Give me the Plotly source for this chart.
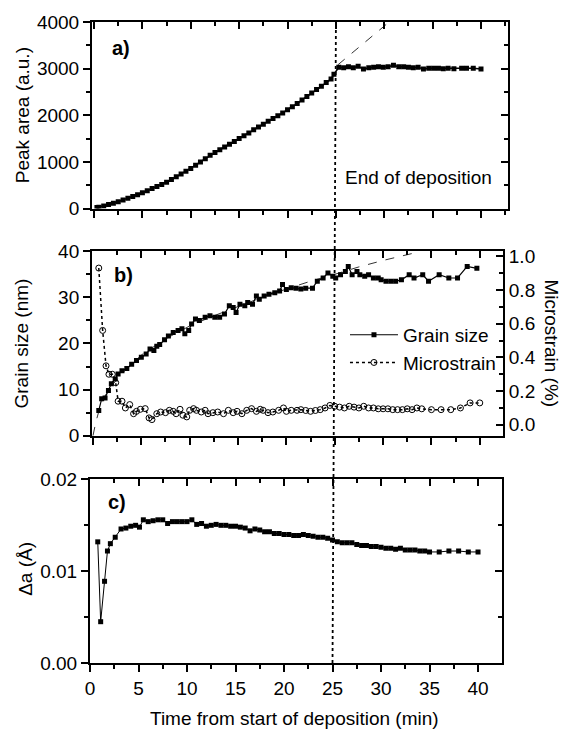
import plotly.graph_objects as go

FONT = "Liberation Sans, Arial, sans-serif"

# ---------------- data ----------------
# a) peak area (a.u.)
area_t = [0.3, 0.5, 1.0, 1.5, 2.0, 2.5, 3.0, 3.5, 4.0, 4.5, 5.0, 5.5, 6.0, 6.5, 7.0, 7.5,
          8.0, 8.5, 9.0, 9.5, 10.0, 10.5, 11.0, 11.5, 12.0, 12.5, 13.0, 13.5, 14.0, 14.5,
          15.0, 15.5, 16.0, 16.5, 17.0, 17.5, 18.0, 18.5, 19.0, 19.5, 20.0, 20.5, 21.0,
          21.5, 22.0, 22.5, 23.0, 23.5, 24.0, 24.5, 24.8,
          25.3, 25.8, 26.3, 26.8, 27.3, 27.85, 28.4, 28.9, 29.4, 29.9, 30.4, 30.95, 31.5,
          32.0, 32.5, 33.0, 33.5, 34.05, 34.6, 35.1, 35.6, 36.1, 36.6, 37.2, 38.0, 38.5,
          39.2, 40.0]
area_v = [20, 30, 55, 85, 115, 145, 185, 220, 258, 298, 338, 382, 428, 470, 515, 565,
          620, 680, 740, 800, 860, 930, 1000, 1070, 1140, 1200, 1260, 1320, 1380, 1440,
          1500, 1560, 1620, 1690, 1750, 1810, 1870, 1930, 1990, 2050, 2120, 2180, 2250,
          2330, 2400, 2480, 2550, 2620, 2700, 2780, 2880,
          3030, 3020, 3040, 3020, 3050, 2990, 3020, 3030, 3040, 3030, 3040, 3070, 3040,
          3040, 3030, 3020, 3030, 2990, 3010, 3010, 3010, 3000, 3010, 3000, 3010, 3010,
          3010, 2990]
area_ext_t = [25.2, 30.5]
area_ext_v = [3080, 4000]

# b) grain size (nm)
grain_t = [0.6, 0.9, 1.25, 1.6, 1.9, 2.3, 2.6, 3.0, 3.5, 4.0, 4.5, 5.0, 5.5, 5.9, 6.3,
           6.6, 6.9, 7.4, 7.8, 8.3, 8.8, 9.2, 9.5, 9.9, 10.2, 10.6, 11.0, 11.6, 12.1,
           12.6, 13.1, 13.6, 14.1, 14.5, 14.8, 15.2, 15.7, 16.0, 16.5, 16.9, 17.2, 17.7,
           18.2, 18.8, 19.3, 19.6, 20.0, 20.5, 21.0, 21.5, 22.0, 22.7, 23.2, 23.8, 24.3,
           24.8, 25.1, 25.6, 26.1, 26.4, 26.8, 27.3, 27.6, 28.1, 28.5, 29.0, 29.5, 29.8,
           30.3, 30.8, 31.3, 31.9, 32.7, 33.2, 34.1, 34.7, 35.8, 36.8, 37.7, 38.7, 39.7]
grain_v = [5.5, 8.0, 8.2, 9.8, 11.3, 12.3, 13.4, 14.1, 14.6, 15.5, 16.3, 17.0, 17.7, 18.8,
           18.5, 19.4, 19.8, 20.8, 21.6, 22.4, 22.8, 23.2, 22.1, 22.8, 24.2, 25.3, 25.0,
           25.7, 26.0, 25.7, 25.7, 26.4, 28.2, 27.8, 26.7, 28.5, 28.2, 28.9, 28.5, 30.3,
           29.6, 30.3, 30.7, 31.0, 31.4, 32.8, 31.7, 32.1, 32.0, 31.8, 32.0, 32.0, 33.5,
           34.2, 35.3, 34.6, 34.2, 34.9, 35.6, 36.7, 34.9, 35.6, 34.9, 34.6, 34.9, 34.2,
           34.2, 33.8, 33.5, 33.5, 33.5, 33.8, 34.9, 34.2, 34.9, 33.5, 34.9, 34.2, 34.2,
           36.7, 36.3]
fit_t = [0.0, 0.3, 0.7, 1.2, 2.0, 3.0, 5.0, 7.5, 10.0, 12.5, 15.0, 17.5, 20.0, 22.5,
         25.0, 27.5, 30.0, 33.6]
fit_v = [0.0, 3.0, 6.0, 8.5, 11.0, 13.5, 17.5, 21.0, 23.8, 26.0, 28.0, 30.0, 31.8, 33.5,
         35.0, 36.6, 38.0, 39.8]

# b) microstrain (%)
strain_t = [0.6, 1.0, 1.35, 1.65, 2.0, 2.35, 2.6, 3.0, 3.35, 3.8, 4.2, 4.5, 4.9, 5.4, 5.8,
            6.1, 6.6, 7.0, 7.5, 7.9, 8.3, 8.6, 9.0, 9.3, 9.7, 10.0, 10.4, 10.7, 11.2, 11.6,
            11.9, 12.4, 12.9, 13.5, 14.0, 14.5, 14.9, 15.4, 15.9, 16.4, 16.9, 17.3, 17.6,
            18.1, 18.6, 19.2, 19.7, 20.0, 20.5, 21.1, 21.5, 22.0, 22.5, 23.0, 23.5, 24.0,
            24.5, 25.0, 25.5, 26.0, 26.5, 27.0, 27.5, 28.0, 28.5, 29.0, 29.5, 30.0, 30.5,
            31.0, 31.5, 32.0, 32.5, 33.0, 33.5, 34.0, 35.0, 36.0, 37.0, 38.0, 39.0, 40.0]
strain_v = [0.93, 0.56, 0.35, 0.30, 0.30, 0.25, 0.14, 0.14, 0.10, 0.12, 0.066, 0.08, 0.092,
            0.096, 0.041, 0.031, 0.066, 0.076, 0.072, 0.086, 0.08, 0.066, 0.092, 0.057,
            0.047, 0.086, 0.096, 0.086, 0.076, 0.086, 0.066, 0.072, 0.076, 0.066, 0.086,
            0.072, 0.08, 0.066, 0.086, 0.096, 0.08, 0.092, 0.086, 0.072, 0.076, 0.086, 0.10,
            0.08, 0.086, 0.086, 0.09, 0.085, 0.08, 0.085, 0.09, 0.10, 0.115, 0.11, 0.105,
            0.10, 0.11, 0.105, 0.10, 0.11, 0.10, 0.10, 0.095, 0.095, 0.095, 0.09, 0.09,
            0.09, 0.095, 0.09, 0.10, 0.095, 0.09, 0.09, 0.09, 0.10, 0.13, 0.13]

# c) lattice parameter change (Å)
da_t = [0.8, 1.1, 1.5, 1.8, 2.1, 2.6, 3.2, 3.7, 4.2, 4.7, 5.1, 5.5, 6.0, 6.5, 7.0, 7.5,
        8.0, 8.5, 9.0, 9.5, 10.0, 10.5, 11.0, 11.5, 12.0, 12.5, 13.0, 13.5, 14.0, 14.5,
        15.0, 15.5, 16.0, 16.5, 17.0, 17.5, 18.0, 18.5, 19.0, 19.5, 20.0, 20.5, 21.0,
        21.5, 22.0, 22.5, 23.0, 23.5, 24.0, 24.5, 25.0, 25.5, 26.0, 26.5, 27.0, 27.5,
        28.0, 28.5, 29.0, 29.5, 30.0, 30.5, 31.0, 31.5, 32.0, 32.5, 33.0, 33.5, 34.0,
        34.5, 35.0, 36.0, 37.0, 38.0, 39.0, 40.0]
da_v = [0.0132, 0.0045, 0.0089, 0.0122, 0.0130, 0.0137, 0.0146, 0.0147, 0.0149, 0.0150,
        0.0148, 0.0156, 0.0154, 0.0155, 0.0156, 0.0156, 0.0152, 0.0154, 0.0154, 0.0154,
        0.0154, 0.0156, 0.0151, 0.0152, 0.0149, 0.0150, 0.0151, 0.0150, 0.0150, 0.0149,
        0.0149, 0.0148, 0.0147, 0.0144, 0.0146, 0.0145, 0.0143, 0.0143, 0.0141, 0.0141,
        0.0140, 0.0140, 0.0139, 0.0139, 0.0140, 0.0139, 0.0138, 0.0137, 0.0137, 0.0136,
        0.0134, 0.0132, 0.0131, 0.0131, 0.0131, 0.0129, 0.0128, 0.0128, 0.0127, 0.0127,
        0.0126, 0.0125, 0.0125, 0.0124, 0.0125, 0.0123, 0.0123, 0.0123, 0.0122, 0.0122,
        0.0121, 0.0121, 0.0122, 0.0122, 0.0121, 0.0121]

END_T = 25.0
x_ticks = [0, 5, 10, 15, 20, 25, 30, 35, 40]

# ---------------- figure ----------------
fig = go.Figure()
sq = dict(symbol="square", size=5, color="black")

fig.add_trace(go.Scatter(x=area_t, y=area_v, mode="lines+markers", marker=sq,
                         line=dict(color="black", width=1.5), showlegend=False,
                         xaxis="x", yaxis="y"))
fig.add_trace(go.Scatter(x=area_ext_t, y=area_ext_v, mode="lines",
                         line=dict(color="#333", width=1, dash="dash"), showlegend=False,
                         xaxis="x", yaxis="y"))

fig.add_trace(go.Scatter(x=fit_t, y=fit_v, mode="lines",
                         line=dict(color="#333", width=1, dash="dash"), showlegend=False,
                         xaxis="x2", yaxis="y2"))
fig.add_trace(go.Scatter(x=grain_t, y=grain_v, mode="lines+markers", name="Grain size",
                         marker=sq, line=dict(color="black", width=1.2),
                         xaxis="x2", yaxis="y2"))
fig.add_trace(go.Scatter(x=strain_t, y=strain_v, mode="lines+markers", name="Microstrain",
                         marker=dict(symbol="circle-open", size=6, color="black",
                                     line=dict(width=1)),
                         line=dict(color="black", width=1.5, dash="dot"),
                         xaxis="x2", yaxis="y5"))

fig.add_trace(go.Scatter(x=da_t, y=da_v, mode="lines+markers", marker=sq,
                         line=dict(color="black", width=1), showlegend=False,
                         xaxis="x3", yaxis="y3"))

# invisible helpers so the mirrored (top / right) axes are drawn
for xa, ya in [("x4", "y4"), ("x5", "y2"), ("x6", "y6")]:
    fig.add_trace(go.Scatter(x=[None], y=[None], mode="markers", showlegend=False,
                             hoverinfo="skip", xaxis=xa, yaxis=ya))

tickfont = dict(family=FONT, size=19, color="black")
common = dict(showline=True, linecolor="black", linewidth=2, showgrid=False,
              zeroline=False, tickcolor="black", tickwidth=1.5, tickfont=tickfont)


def xmain(dom, rng, anchor, labels):
    return dict(common, domain=dom, range=rng, anchor=anchor, ticks="outside", ticklen=7,
                tickvals=x_ticks, showticklabels=labels,
                minor=dict(ticks="outside", ticklen=4, dtick=2.5, tick0=0,
                           tickcolor="black", tickwidth=1.5))


def xtop(over, rng, anchor):
    return dict(common, overlaying=over, range=rng, anchor=anchor, side="top",
                ticks="inside", ticklen=7, tickvals=x_ticks, showticklabels=False,
                minor=dict(ticks="inside", ticklen=4, dtick=2.5, tick0=0,
                           tickcolor="black", tickwidth=1.5))


def yleft(dom, rng, anchor, dtick, mdtick, fmt=None):
    d = dict(common, domain=dom, range=rng, anchor=anchor, ticks="outside", ticklen=7,
             dtick=dtick, tick0=0,
             minor=dict(ticks="outside", ticklen=4, dtick=mdtick, tick0=0,
                        tickcolor="black", tickwidth=1.5))
    if fmt:
        d["tickformat"] = fmt
    return d


def yright(over, rng, anchor, dtick, mdtick, labels, fmt=None):
    d = dict(common, overlaying=over, range=rng, anchor=anchor, side="right",
             ticks="inside", ticklen=7, dtick=dtick, tick0=0, showticklabels=labels,
             minor=dict(ticks="inside", ticklen=4, dtick=mdtick, tick0=0,
                        tickcolor="black", tickwidth=1.5))
    if fmt:
        d["tickformat"] = fmt
    return d


dom_a, rng_a = [0.0048, 1.0], [-0.21, 42.79]
dom_b, rng_b = [0.0048, 0.988], [-0.1, 42.4]
dom_c, rng_c = [0.0, 0.9856], [0.0, 42.47]
ydom_a, ydom_b, ydom_c = [0.709, 1.0], [0.3545, 0.6424], [0.0, 0.2864]

fig.update_layout(
    width=566, height=732,
    margin=dict(l=90, r=58, t=17, b=69),
    paper_bgcolor="white", plot_bgcolor="white",
    font=dict(family=FONT, size=19, color="black"),
    xaxis=xmain(dom_a, rng_a, "y", False),
    xaxis2=xmain(dom_b, rng_b, "y2", False),
    xaxis3=xmain(dom_c, rng_c, "y3", True),
    xaxis4=xtop("x", rng_a, "y"),
    xaxis5=xtop("x2", rng_b, "y2"),
    xaxis6=xtop("x3", rng_c, "y3"),
    yaxis=yleft(ydom_a, [0, 4000], "x", 1000, 500),
    yaxis2=yleft(ydom_b, [0, 40], "x2", 10, 5),
    yaxis3=yleft(ydom_c, [0, 0.02], "x3", 0.01, 0.005, ".2f"),
    yaxis4=yright("y", [0, 4000], "x", 1000, 500, False),
    yaxis5=yright("y2", [-0.065, 1.03], "x2", 0.2, 0.1, True, ".1f"),
    yaxis6=yright("y3", [0, 0.02], "x3", 0.01, 0.005, False),
    legend=dict(x=0.61, y=0.5415, xanchor="left", yanchor="top", bgcolor="rgba(0,0,0,0)",
                font=dict(family=FONT, size=19), itemwidth=48, tracegroupgap=0),
    showlegend=True,
)

# vertical dotted "end of deposition" line through all panels
fig.add_shape(type="line", xref="x3", yref="paper", x0=END_T, x1=END_T + 0.35,
              y0=0, y1=0.995, line=dict(color="black", width=1.8, dash="dot"))

ann = [
    dict(text="End of deposition", xref="x", yref="y", x=25.7, y=660, xanchor="left",
         yanchor="middle", font=dict(size=19)),
    dict(text="<b>a)</b>", xref="x", yref="y", x=1.65, y=3450, xanchor="left",
         yanchor="middle", font=dict(size=20)),
    dict(text="<b>b)</b>", xref="x2", yref="y2", x=2.0, y=34.8, xanchor="left",
         yanchor="middle", font=dict(size=20)),
    dict(text="<b>c)</b>", xref="x3", yref="y3", x=1.65, y=0.0175, xanchor="left",
         yanchor="middle", font=dict(size=20)),
    dict(text="Peak area (a.u.)", xref="paper", yref="paper", x=-0.1627, y=0.8545,
         textangle=-90, xanchor="center", yanchor="middle", font=dict(size=19)),
    dict(text="Grain size (nm)", xref="paper", yref="paper", x=-0.165, y=0.4985,
         textangle=-90, xanchor="center", yanchor="middle", font=dict(size=19)),
    dict(text="Δa (Å)", xref="paper", yref="paper", x=-0.153, y=0.147,
         textangle=-90, xanchor="center", yanchor="middle", font=dict(size=19)),
    dict(text="Microstrain (%)", xref="paper", yref="paper", x=1.103, y=0.4985,
         textangle=90, xanchor="center", yanchor="middle", font=dict(size=19)),
    dict(text="Time from start of deposition (min)", xref="paper", yref="paper",
         x=0.49, y=-0.0865, xanchor="center", yanchor="middle", font=dict(size=19)),
]
for a in ann:
    a["showarrow"] = False
    fig.add_annotation(**a)

fig.write_html("out.html")
